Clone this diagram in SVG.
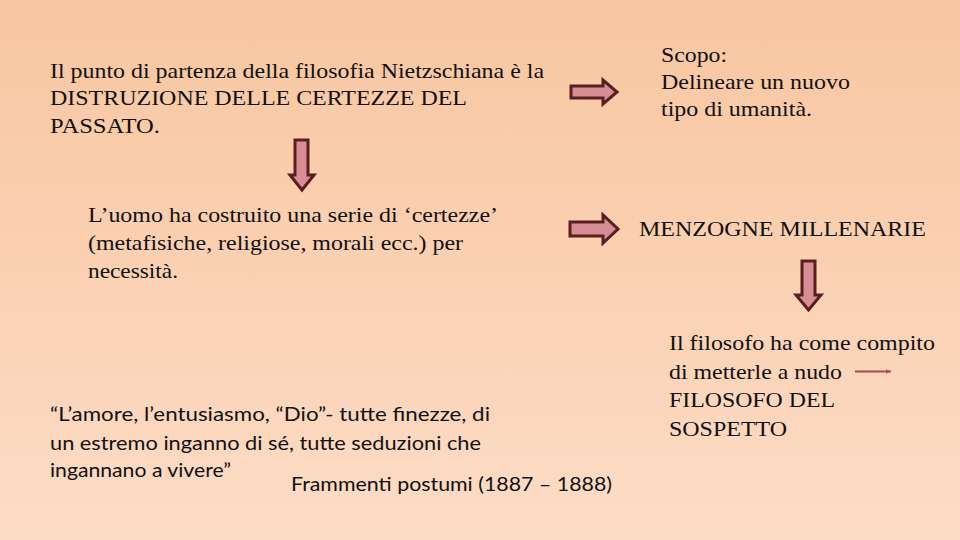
<svg xmlns="http://www.w3.org/2000/svg" width="960" height="540" viewBox="0 0 960 540">
<defs>
<linearGradient id="bg" x1="0" y1="0" x2="0" y2="1">
<stop offset="0" stop-color="#f8c6a0"/>
<stop offset="1" stop-color="#fddcc6"/>
</linearGradient>
<marker id="ah" markerWidth="6" markerHeight="6" refX="5" refY="3" orient="auto" markerUnits="userSpaceOnUse">
<path d="M0,1 L5,3 L0,5 Z" fill="#b04a44"/>
</marker>
<style>
.s{font-size:22px;fill:#111}
.q{font-size:19px;fill:#111}
.ba{fill:#d68e96;stroke:#5a1e1e;stroke-width:3;stroke-linejoin:miter}
.ln{stroke:#b04a44;stroke-width:2;fill:none}
</style>
</defs>
<rect width="960" height="540" fill="url(#bg)"/>
<g font-family="'Liberation Serif', 'DejaVu Serif', 'Times New Roman', serif">
<g id="n-partenza">
<text class="s" x="50" y="78" textLength="494" lengthAdjust="spacingAndGlyphs">Il punto di partenza della filosofia Nietzschiana è la</text>
<text class="s" x="50" y="105" textLength="417" lengthAdjust="spacingAndGlyphs">DISTRUZIONE DELLE CERTEZZE DEL</text>
<text class="s" x="50" y="133" textLength="110" lengthAdjust="spacingAndGlyphs">PASSATO.</text>
</g>
<g id="n-scopo">
<text class="s" x="661" y="62" textLength="66" lengthAdjust="spacingAndGlyphs">Scopo:</text>
<text class="s" x="661" y="89" textLength="189" lengthAdjust="spacingAndGlyphs">Delineare un nuovo</text>
<text class="s" x="661" y="116" textLength="151" lengthAdjust="spacingAndGlyphs">tipo di umanità.</text>
</g>
<g id="n-uomo">
<text class="s" x="88" y="222" textLength="410" lengthAdjust="spacingAndGlyphs">L’uomo ha costruito una serie di ‘certezze’</text>
<text class="s" x="88" y="250" textLength="375" lengthAdjust="spacingAndGlyphs">(metafisiche, religiose, morali ecc.) per</text>
<text class="s" x="88" y="278" textLength="90" lengthAdjust="spacingAndGlyphs">necessità.</text>
</g>
<g id="n-menzogne">
<text class="s" x="639" y="236" textLength="287" lengthAdjust="spacingAndGlyphs">MENZOGNE MILLENARIE</text>
</g>
<g id="n-filosofo">
<text class="s" x="669" y="350" textLength="266" lengthAdjust="spacingAndGlyphs">Il filosofo ha come compito</text>
<text class="s" x="669" y="379" textLength="173" lengthAdjust="spacingAndGlyphs">di metterle a nudo</text>
<text class="s" x="669" y="407" textLength="166" lengthAdjust="spacingAndGlyphs">FILOSOFO DEL</text>
<text class="s" x="669" y="436" textLength="118" lengthAdjust="spacingAndGlyphs">SOSPETTO</text>
</g>
</g>
<g id="n-citazione" font-family="Lato, 'Open Sans', sans-serif">
<text class="q" x="50" y="421" textLength="440" lengthAdjust="spacingAndGlyphs">“L’amore, l’entusiasmo, “Dio”- tutte finezze, di</text>
<text class="q" x="50" y="450" textLength="431" lengthAdjust="spacingAndGlyphs">un estremo inganno di sé, tutte seduzioni che</text>
<text class="q" x="50" y="477" textLength="181" lengthAdjust="spacingAndGlyphs">ingannano a vivere”</text>
<text class="q" x="291" y="491" textLength="321" lengthAdjust="spacingAndGlyphs">Frammenti postumi (1887 – 1888)</text>
</g>
<g id="connectors">
<path class="ba" d="M571,86 L603,86 L603,80 L617,92 L603,104 L603,98 L571,98 Z"/>
<path class="ba" d="M570,222 L603,222 L603,215 L618,229 L603,243 L603,236 L570,236 Z"/>
<path class="ba" d="M295,140 L308,140 L308,175 L314,175 L302,190 L290,175 L295,175 Z"/>
<path class="ba" d="M802,261 L815,261 L815,295 L821,295 L808.5,310 L796,295 L802,295 Z"/>
<line class="ln" x1="855" y1="371.5" x2="891" y2="371.5" marker-end="url(#ah)"/>
</g>
</svg>
